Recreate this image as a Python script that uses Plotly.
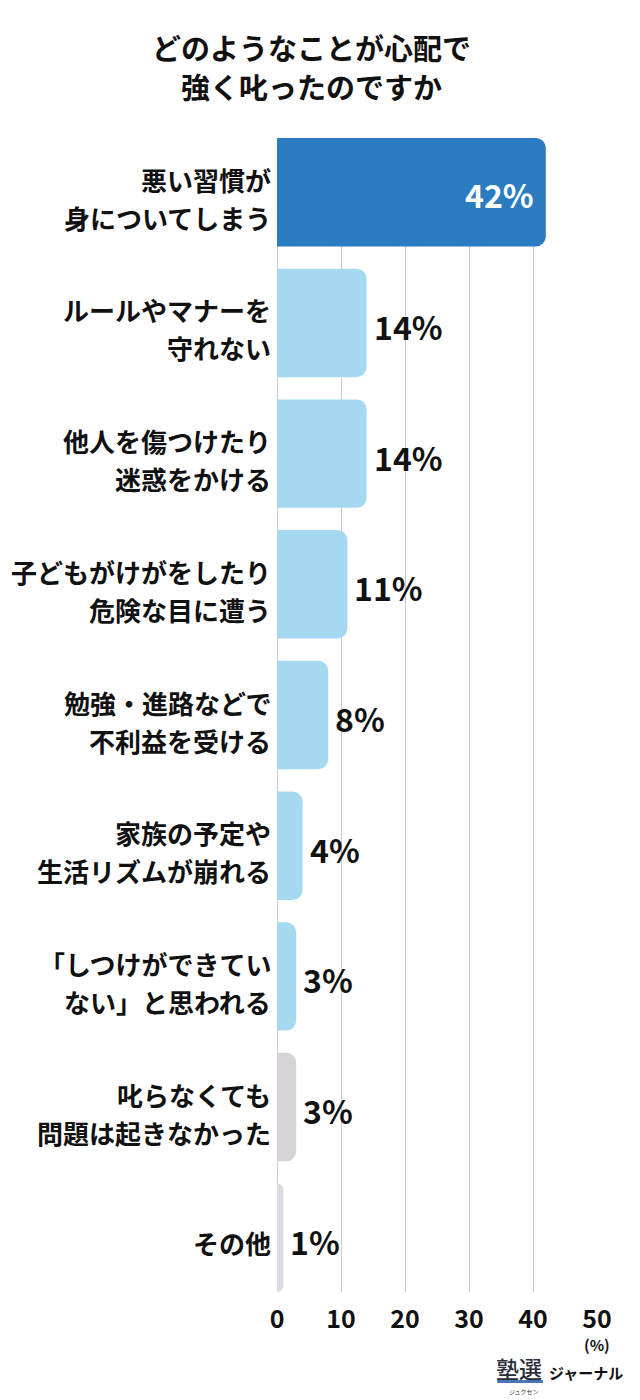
import plotly.graph_objects as go

# ---- data ----
categories = [
    "悪い習慣が\n身についてしまう",
    "ルールやマナーを\n守れない",
    "他人を傷つけたり\n迷惑をかける",
    "子どもがけがをしたり\n危険な目に遭う",
    "勉強・進路などで\n不利益を受ける",
    "家族の予定や\n生活リズムが崩れる",
    "「しつけができてい\nない」と思われる",
    "叱らなくても\n問題は起きなかった",
    "その他",
]
values = [42, 14, 14, 11, 8, 4, 3, 3, 1]
value_labels = ["42%", "14%", "14%", "11%", "8%", "4%", "3%", "3%", "1%"]
bar_colors = ["#2B7BC1", "#A5D9EF", "#A5D9EF", "#A5D9EF", "#A5D9EF",
              "#A5D9EF", "#A5D9EF", "#D7D3D9", "#DCDCE0"]
x_ticks = [0, 10, 20, 30, 40, 50]
title_lines = ["どのようなことが心配で", "強く叱ったのですか"]

FONT = "Noto Sans CJK JP"

fig = go.Figure()
fig.add_trace(go.Bar(
    x=values,
    y=list(range(len(categories))),
    orientation="h",
    marker=dict(color=bar_colors, line=dict(width=0)),
    width=0.83,
    hoverinfo="skip",
))

annotations = []
# category labels
for i, cat in enumerate(categories):
    lines = cat.split("\n")
    shifts = [-5] if len(lines) == 1 else [13, -25]
    for line, ys in zip(lines, shifts):
        annotations.append(dict(
            x=0, xref="paper", y=i, yref="y", text=line,
            xanchor="right", yanchor="middle", xshift=-4, yshift=ys,
            showarrow=False,
            font=dict(family=FONT, size=26, color="#111111", weight=700),
        ))

# value labels
for i, (v, lab) in enumerate(zip(values, value_labels)):
    if i == 0:
        annotations.append(dict(
            x=v, xref="x", y=i, yref="y", text=lab,
            xanchor="right", yanchor="middle", xshift=-10, yshift=-2,
            showarrow=False,
            font=dict(family=FONT, size=32, color="white", weight=700),
        ))
    else:
        annotations.append(dict(
            x=v, xref="x", y=i, yref="y", text=lab,
            xanchor="left", yanchor="middle", xshift=5, yshift=-3,
            showarrow=False,
            font=dict(family=FONT, size=32, color="#111111", weight=700),
        ))

# title
for line, ys in zip(title_lines, [91, 52]):
    annotations.append(dict(
        x=0, xref="paper", xshift=34, y=1, yref="paper", yshift=ys, text=line,
        showarrow=False, xanchor="center", yanchor="middle",
        font=dict(family=FONT, size=29, color="#111111", weight=700),
    ))

# unit and logo
annotations.append(dict(x=50, xref="x", y=0, yref="paper", yshift=-52, text="(%)",
                        showarrow=False, xanchor="center", yanchor="middle",
                        font=dict(family=FONT, size=15, color="#111111", weight=700)))
annotations.append(dict(x=1, xref="paper", y=0, yref="paper", xshift=-53, yshift=-76,
                        text="塾選", showarrow=False, xanchor="right", yanchor="middle",
                        font=dict(family=FONT, size=23, color="#2A2D3A", weight=500)))
annotations.append(dict(x=1, xref="paper", y=0, yref="paper", xshift=-73, yshift=-99,
                        text="ジュクセン", showarrow=False, xanchor="center", yanchor="middle",
                        font=dict(family=FONT, size=6, color="#333333")))
annotations.append(dict(x=1, xref="paper", y=0, yref="paper", xshift=-50, yshift=-80,
                        text="ジャーナル", showarrow=False, xanchor="left", yanchor="middle",
                        font=dict(family=FONT, size=15, color="#111111", weight=700)))

fig.update_layout(
    width=632, height=1392,
    margin=dict(l=269, r=43, t=130, b=108, pad=0),
    paper_bgcolor="white", plot_bgcolor="white",
    showlegend=False,
    barcornerradius=10,
    xaxis=dict(
        range=[0, 50], tickvals=x_ticks, ticktext=[str(t) for t in x_ticks],
        showgrid=True, gridcolor="#C9C9D1", gridwidth=1,
        zeroline=True, zerolinecolor="#C9C9D1", zerolinewidth=1,
        showline=False, ticks="", ticklabelstandoff=10,
        tickfont=dict(family=FONT, size=25, color="#111111", weight=700),
        fixedrange=True,
    ),
    yaxis=dict(
        range=[len(categories) - 1 + 0.415, -0.415],
        showticklabels=False, showgrid=False, zeroline=False,
        showline=False, ticks="", fixedrange=True,
    ),
    annotations=annotations,
)

fig.add_shape(type="rect", xref="paper", yref="paper", x0=0.688, x1=0.831,
              y0=-0.0789, y1=-0.0763, fillcolor="#4A76B8", line=dict(width=0))

fig.write_html("out.html")
